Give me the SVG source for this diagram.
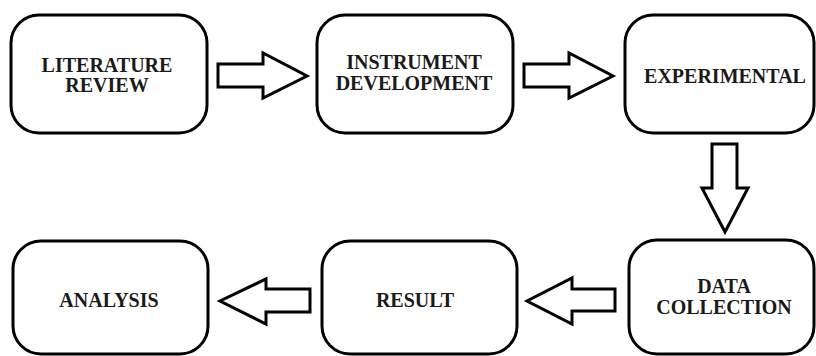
<svg xmlns="http://www.w3.org/2000/svg" width="816" height="356" viewBox="0 0 816 356">
<style>
.box{fill:#fff;stroke:#000;stroke-width:3}
.arr{fill:#fff;stroke:#000;stroke-width:3;stroke-linejoin:miter}
.t{font-weight:bold;font-size:20px;fill:#1a1a1a;text-anchor:middle}
</style>
<rect width="816" height="356" fill="#fff"/>
<g font-family="'Liberation Serif', 'Times New Roman', Times, serif">
<g id="n1"><rect class="box" x="11" y="15" width="196" height="118" rx="28"/><text class="t" x="107" y="72">LITERATURE</text><text class="t" x="107" y="92">REVIEW</text></g>
<g id="n2"><rect class="box" x="317" y="15" width="196" height="118" rx="28"/><text class="t" x="414" y="69">INSTRUMENT</text><text class="t" x="414" y="90">DEVELOPMENT</text></g>
<g id="n3"><rect class="box" x="625" y="15" width="189" height="118" rx="28"/><text class="t" x="725" y="83">EXPERIMENTAL</text></g>
<g id="n4"><rect class="box" x="629" y="240" width="185" height="114" rx="28"/><text class="t" x="724" y="293">DATA</text><text class="t" x="724" y="314">COLLECTION</text></g>
<g id="n5"><rect class="box" x="322" y="241" width="195" height="113" rx="28"/><text class="t" x="415" y="307">RESULT</text></g>
<g id="n6"><rect class="box" x="13" y="241" width="195" height="113" rx="28"/><text class="t" x="109" y="307">ANALYSIS</text></g>
</g>
<g id="connectors">
<polygon class="arr" points="218,64 263,64 263,53 307,76 263,98 263,87 218,87"/>
<polygon class="arr" points="524,64 569,64 569,53 613,76 569,98 569,87 524,87"/>
<polygon class="arr" points="712,144 737,144 737,188 748,188 725,232 702,188 712,188"/>
<polygon class="arr" points="615,289 572,289 572,278 527,301 572,324 572,311 615,311"/>
<polygon class="arr" points="310,289 266,289 266,279 220,301 266,324 266,312 310,312"/>
</g>
</svg>
